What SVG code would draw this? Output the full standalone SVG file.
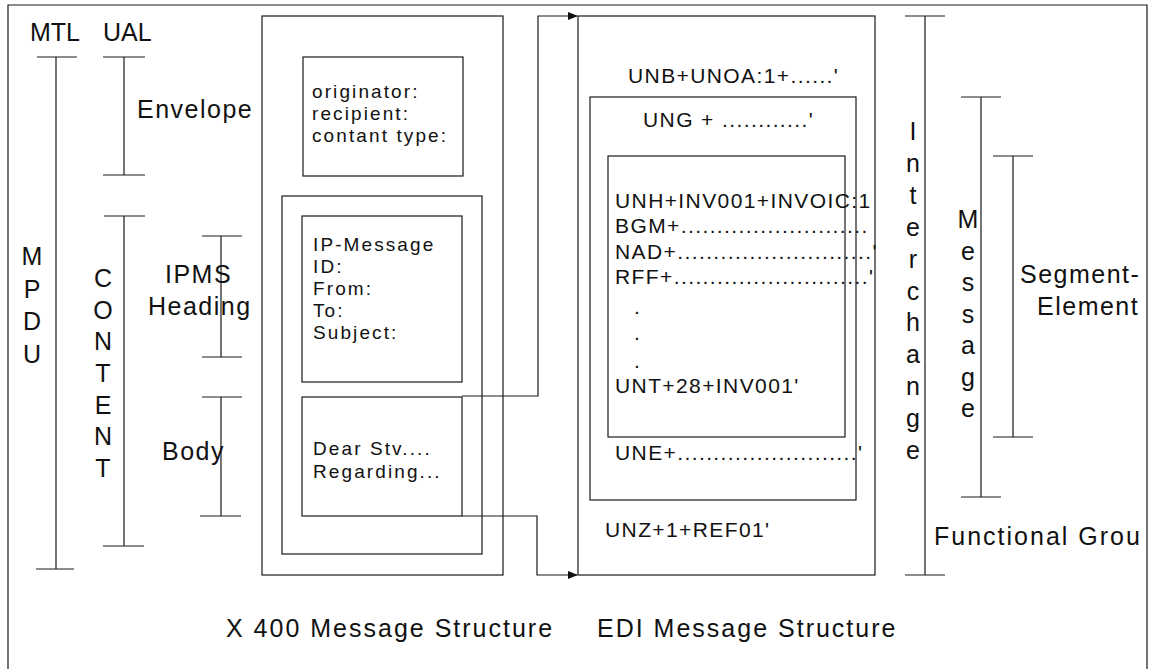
<svg xmlns="http://www.w3.org/2000/svg" width="1155" height="669" viewBox="0 0 1155 669">
<style>
.ln{stroke:#1a1a1a;stroke-width:1.2;fill:none}
.bx{fill:none;stroke:#1a1a1a;stroke-width:1.2}
.t{font-family:"Liberation Sans",Arial,sans-serif;font-size:19px;letter-spacing:2.1px;fill:#111}
.e{font-family:"Liberation Sans",Arial,sans-serif;font-size:21px;letter-spacing:1.4px;fill:#111}
.lb{font-family:"Liberation Sans",Arial,sans-serif;font-size:25px;letter-spacing:1.5px;fill:#111}
.cap{font-family:"Liberation Sans",Arial,sans-serif;font-size:25px;letter-spacing:2px;fill:#111}
.vl{font-family:"Liberation Sans",Arial,sans-serif;font-size:25px;text-anchor:middle;fill:#111}
</style>
<defs>
<marker id="arr" markerWidth="10" markerHeight="8" refX="9" refY="4" orient="auto" markerUnits="userSpaceOnUse">
<path d="M0,0 L10,4 L0,8 z" fill="#111"/>
</marker>
</defs>
<rect width="1155" height="669" fill="#fff"/>
<g id="frame"><path class="ln" d="M8,669 V5 H1147 V669"/></g>

<g id="mtl">
<text class="lb" x="30" y="41" style="letter-spacing:0">MTL</text>
<path class="ln" d="M37,57 H77 M56,57 V569 M36,569 H74"/>
<text class="vl"><tspan x="32" y="265">M</tspan><tspan x="32" y="298">P</tspan><tspan x="32" y="330">D</tspan><tspan x="32" y="363">U</tspan></text>
</g>
<g id="ual">
<text class="lb" x="103" y="41" style="letter-spacing:0">UAL</text>
<path class="ln" d="M103,57 H145 M124,57 V175 M103,175 H145"/>
<text class="lb" x="137" y="118">Envelope</text>
<path class="ln" d="M104,216 H145 M124,216 V546 M103,546 H144"/>
<text class="vl"><tspan x="103" y="287">C</tspan><tspan x="103" y="319">O</tspan><tspan x="103" y="350">N</tspan><tspan x="103" y="382">T</tspan><tspan x="103" y="414">E</tspan><tspan x="103" y="445">N</tspan><tspan x="103" y="477">T</tspan></text>
</g>
<g id="ipms-heading">
<path class="ln" d="M202,236 H242 M221,236 V357 M202,357 H242"/>
<text class="lb" x="165" y="283">IPMS</text>
<text class="lb" x="148" y="315">Heading</text>
</g>
<g id="body-label">
<path class="ln" d="M202,397 H242 M221,397 V516 M200,516 H241"/>
<text class="lb" x="162" y="460">Body</text>
</g>

<g id="x400-outer"><rect class="bx" x="262" y="16" width="241" height="559"/></g>
<g id="envelope-box">
<rect class="bx" x="303" y="57" width="160" height="119"/>
<text class="t" x="312" y="98">originator:</text>
<text class="t" x="312" y="120">recipient:</text>
<text class="t" x="312" y="142">contant type:</text>
</g>
<g id="content-box"><rect class="bx" x="282" y="196" width="200" height="358"/></g>
<g id="heading-box">
<rect class="bx" x="302" y="216" width="160" height="166"/>
<text class="t" x="313" y="251">IP-Message</text>
<text class="t" x="313" y="273">ID:</text>
<text class="t" x="313" y="295">From:</text>
<text class="t" x="313" y="317">To:</text>
<text class="t" x="313" y="339">Subject:</text>
</g>
<g id="body-box">
<rect class="bx" x="302" y="397" width="160" height="119"/>
<text class="t" x="313" y="455">Dear Stv....</text>
<text class="t" x="313" y="478">Regarding...</text>
</g>

<g id="edi-outer">
<rect class="bx" x="578" y="16" width="297" height="559"/>
<text class="e" x="628" y="83">UNB+UNOA:1+......'</text>
<text class="e" x="605" y="537">UNZ+1+REF01'</text>
</g>
<g id="functional-group-box">
<rect class="bx" x="590" y="97" width="266" height="403"/>
<text class="e" x="643" y="127">UNG + ............'</text>
<text class="e" x="615" y="460">UNE+.........................'</text>
</g>
<g id="message-box">
<rect class="bx" x="608" y="156" width="237" height="281"/>
<text class="e" x="615" y="208">UNH+INV001+INVOIC:1</text>
<text class="e" x="615" y="233">BGM+..........................</text>
<text class="e" x="615" y="259">NAD+...........................'</text>
<text class="e" x="615" y="284">RFF+...........................'</text>
<text class="e" x="634" y="314">.</text>
<text class="e" x="634" y="340">.</text>
<text class="e" x="634" y="368">.</text>
<text class="e" x="615" y="393">UNT+28+INV001'</text>
</g>

<g id="interchange">
<path class="ln" d="M905,16 H945 M925,16 V575 M905,575 H945"/>
<text class="vl"><tspan x="913" y="140">I</tspan><tspan x="913" y="172">n</tspan><tspan x="913" y="204">t</tspan><tspan x="913" y="236">e</tspan><tspan x="913" y="268">r</tspan><tspan x="913" y="300">c</tspan><tspan x="913" y="331">h</tspan><tspan x="913" y="363">a</tspan><tspan x="913" y="395">n</tspan><tspan x="913" y="427">g</tspan><tspan x="913" y="459">e</tspan></text>
<text class="cap" x="934" y="545">Functional Grou</text>
</g>
<g id="message">
<path class="ln" d="M961,97 H1001 M981,97 V497 M961,497 H1001"/>
<text class="vl"><tspan x="968" y="228">M</tspan><tspan x="968" y="260">e</tspan><tspan x="968" y="291">s</tspan><tspan x="968" y="323">s</tspan><tspan x="968" y="354">a</tspan><tspan x="968" y="386">g</tspan><tspan x="968" y="417">e</tspan></text>
</g>
<g id="segment-element">
<path class="ln" d="M993,156 H1033 M1013,156 V437 M993,437 H1033"/>
<text class="lb" x="1020" y="283">Segment-</text>
<text class="lb" x="1037" y="315">Element</text>
</g>

<g id="captions">
<text class="cap" x="226" y="637">X 400 Message Structure</text>
<text class="cap" x="597" y="637">EDI Message Structure</text>
</g>

<g id="connectors">
<path class="ln" d="M462,396 H538 V16 H577" marker-end="url(#arr)"/>
<path class="ln" d="M462,516 H537 V575 H577" marker-end="url(#arr)"/>
</g>
</svg>
